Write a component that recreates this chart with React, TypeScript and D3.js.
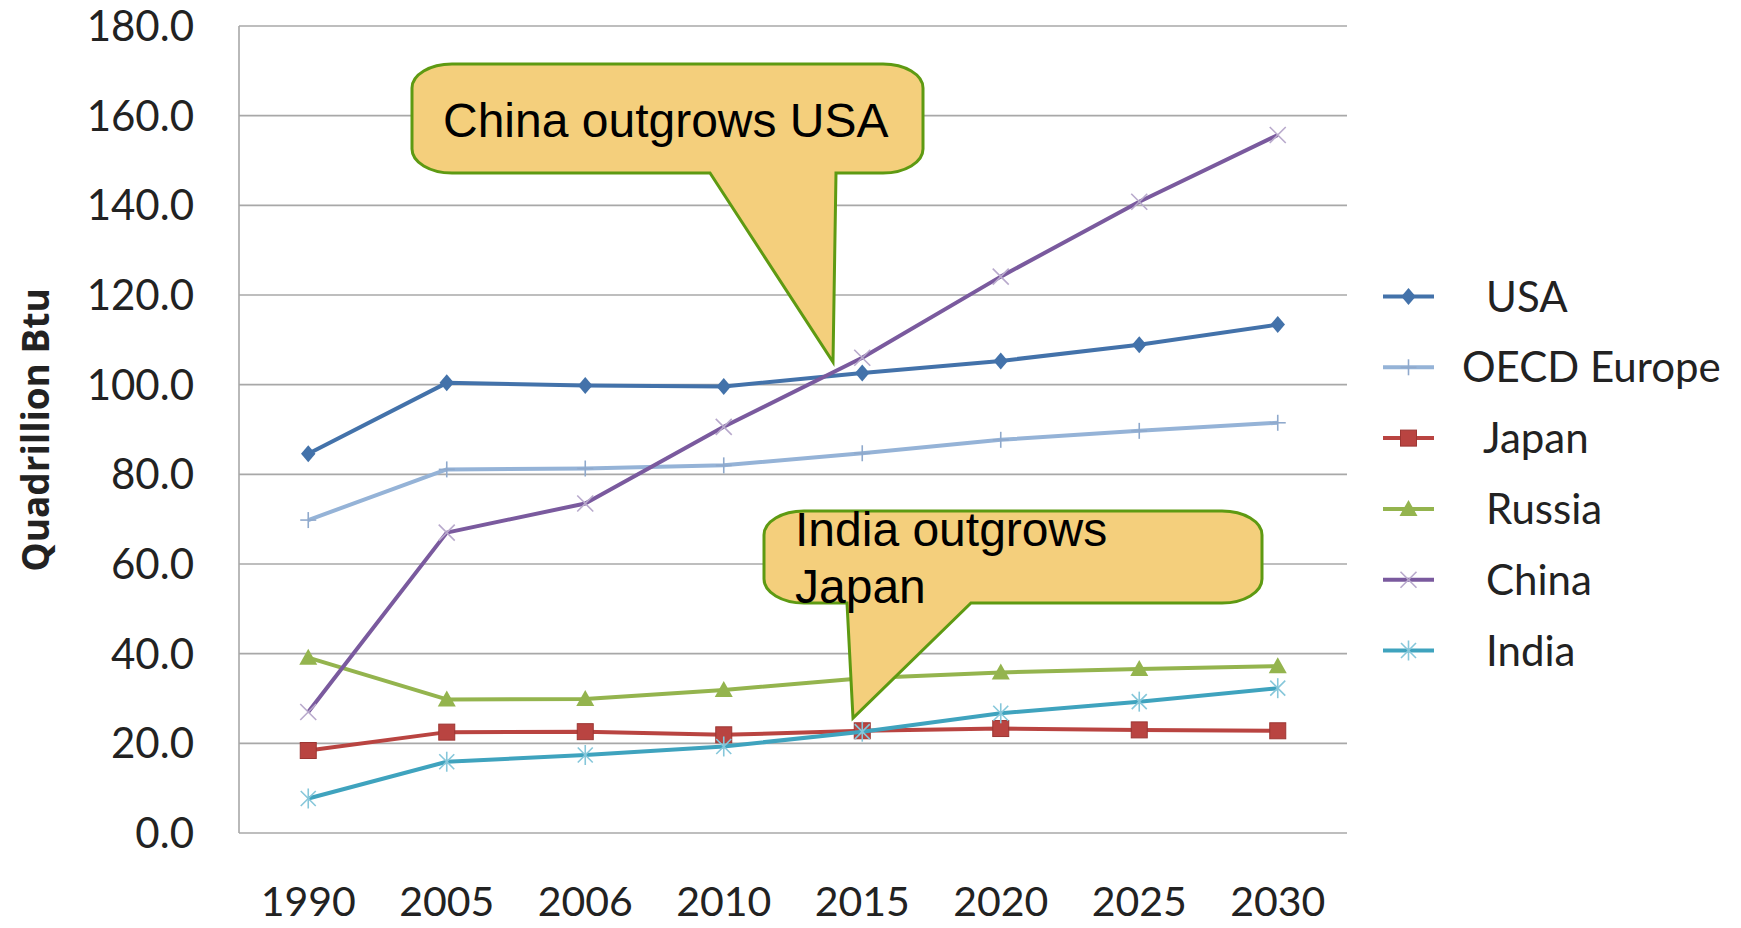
import React from "react";
import * as d3 from "d3";

const categories = ["1990", "2005", "2006", "2010", "2015", "2020", "2025", "2030"];
const seriesNames = ["USA", "OECD Europe", "Japan", "Russia", "China", "India"];
const usa = [84.6, 100.4, 99.8, 99.6, 102.6, 105.3, 108.9, 113.4];
const oecdEurope = [69.8, 81.1, 81.3, 82.0, 84.7, 87.7, 89.7, 91.5];
const japan = [18.4, 22.5, 22.6, 21.9, 22.8, 23.3, 23.0, 22.8];
const russia = [39.1, 29.8, 29.9, 31.9, 34.5, 35.8, 36.6, 37.2];
const china = [27.0, 67.0, 73.5, 90.6, 106.0, 124.1, 140.8, 155.7];
const india = [7.7, 15.9, 17.4, 19.3, 22.6, 26.7, 29.3, 32.3];
const yTicks = [0, 20, 40, 60, 80, 100, 120, 140, 160, 180];
const yTitle = "Quadrillion Btu";
const note1 = ["China outgrows USA"];
const note2 = ["India outgrows", "Japan"];

const W = 1741, H = 928;
const L = 239, R = 1347, T = 26, B = 833;

const colors = ["#4372AA", "#95B3D7", "#B94441", "#94B44E", "#7A5A9E", "#3FA3BE"];
const markerColors = ["#4372AA", "#8FA9CC", "#B94441", "#94B44E", "#B8A9CC", "#86C7DA"];
const markerTypes = ["diamond", "plus", "square", "triangle", "x", "star"];
const allValues = [usa, oecdEurope, japan, russia, china, india];

function Marker({ type, x, y, color }: { type: string; x: number; y: number; color: string }) {
  if (type === "diamond") {
    const s = 8.5;
    return <path d={`M${x},${y - s}L${x + s * 0.85},${y}L${x},${y + s}L${x - s * 0.85},${y}Z`} fill={color} />;
  }
  if (type === "square") {
    const s = 8;
    return <rect x={x - s} y={y - s} width={2 * s} height={2 * s} fill={color} stroke="#9c3633" strokeWidth={1} />;
  }
  if (type === "triangle") {
    return <path d={`M${x},${y - 9}L${x + 9},${y + 7}L${x - 9},${y + 7}Z`} fill={color} />;
  }
  if (type === "plus") {
    return (
      <g stroke={color} strokeWidth={1.6}>
        <line x1={x} y1={y - 8} x2={x} y2={y + 8} />
        <line x1={x - 8} y1={y} x2={x + 8} y2={y} />
      </g>
    );
  }
  if (type === "x") {
    const s = 8;
    return (
      <g stroke={color} strokeWidth={1.6}>
        <line x1={x - s} y1={y - s} x2={x + s} y2={y + s} />
        <line x1={x - s} y1={y + s} x2={x + s} y2={y - s} />
      </g>
    );
  }
  const s = 7.5;
  return (
    <g stroke={color} strokeWidth={1.6}>
      <line x1={x - s} y1={y - s} x2={x + s} y2={y + s} />
      <line x1={x - s} y1={y + s} x2={x + s} y2={y - s} />
      <line x1={x} y1={y - 10} x2={x} y2={y + 10} />
    </g>
  );
}

function calloutPath(x0: number, y0: number, x1: number, y1: number, pl: number, pr: number, tx: number, ty: number) {
  const rx = 40, ry = 24;
  return [
    `M${x0 + rx},${y0}`,
    `H${x1 - rx}`,
    `A${rx},${ry} 0 0 1 ${x1},${y0 + ry}`,
    `V${y1 - ry}`,
    `A${rx},${ry} 0 0 1 ${x1 - rx},${y1}`,
    `H${pr}`,
    `L${tx},${ty}`,
    `L${pl},${y1}`,
    `H${x0 + rx}`,
    `A${rx},${ry} 0 0 1 ${x0},${y1 - ry}`,
    `V${y0 + ry}`,
    `A${rx},${ry} 0 0 1 ${x0 + rx},${y0}`,
    "Z",
  ].join(" ");
}

export default function App() {
  const x = d3.scaleBand<string>().domain(categories).range([L, R]).padding(0);
  const cx = (c: string) => (x(c) as number) + x.bandwidth() / 2;
  const y = d3.scaleLinear().domain([0, 180]).range([B, T]);
  const line = d3
    .line<number>()
    .x((_, i) => cx(categories[i]))
    .y((v) => y(v));

  const tickFont = "Lato, 'Open Sans', sans-serif";
  const legendY0 = 296.5, legendStep = 70.8;

  return (
    <svg width={W} height={H} style={{ position: "absolute", left: 0, top: 0, background: "#fff" }}>
      <rect x={0} y={0} width={W} height={H} fill="#fff" />
      {/* grid */}
      {yTicks.map((t) => (
        <line key={t} x1={L} x2={R} y1={y(t)} y2={y(t)} stroke="#a8a8a8" strokeWidth={1.6} />
      ))}
      <line x1={L} x2={L} y1={T} y2={B} stroke="#a8a8a8" strokeWidth={1.6} />
      {/* y tick labels */}
      {yTicks.map((t) => (
        <text key={t} x={194} y={y(t)} dy="0.36em" textAnchor="end" fontFamily={tickFont} fontSize={42} fill="#222">
          {t.toFixed(1)}
        </text>
      ))}
      {/* x labels */}
      {categories.map((c) => (
        <text key={c} x={cx(c)} y={916} textAnchor="middle" fontFamily={tickFont} fontSize={41} fill="#222">
          {c}
        </text>
      ))}
      {/* y title */}
      <text
        transform={`translate(49,430) rotate(-90)`}
        textAnchor="middle"
        fontFamily="'Open Sans', sans-serif"
        fontWeight="bold"
        fontSize={37}
        fill="#222"
      >
        {yTitle}
      </text>
      {/* series */}
      {allValues.map((vals, si) => (
        <g key={si}>
          <path d={line(vals) || ""} fill="none" stroke={colors[si]} strokeWidth={4} strokeLinejoin="round" />
          {vals.map((v, i) => (
            <Marker key={i} type={markerTypes[si]} x={cx(categories[i])} y={y(v)} color={markerColors[si]} />
          ))}
        </g>
      ))}
      {/* legend */}
      {seriesNames.map((n, si) => {
        const ly = legendY0 + si * legendStep;
        const lx = si === 1 ? 1462 : si === 2 ? 1483 : 1486;
        return (
          <g key={n}>
            <line x1={1383} x2={1434} y1={ly} y2={ly} stroke={colors[si]} strokeWidth={4} />
            <Marker type={markerTypes[si]} x={1408.5} y={ly} color={markerColors[si]} />
            <text x={lx} y={ly} dy="0.36em" fontFamily={tickFont} fontSize={42} fill="#222">
              {n}
            </text>
          </g>
        );
      })}
      {/* callouts */}
      <path d={calloutPath(412, 64, 923, 173, 710, 836, 833, 362)} fill="#F4CF7C" stroke="#5E9A12" strokeWidth={3} />
      {note1.map((t, i) => (
        <text key={i} x={443} y={137 + i * 57} fontFamily="'Liberation Sans', Arial, sans-serif" fontSize={48} fill="#000">
          {t}
        </text>
      ))}
      <path d={calloutPath(764, 511, 1262, 603, 847, 971, 853, 718)} fill="#F4CF7C" stroke="#5E9A12" strokeWidth={3} />
      {note2.map((t, i) => (
        <text key={i} x={795} y={546 + i * 57} fontFamily="'Liberation Sans', Arial, sans-serif" fontSize={48} fill="#000">
          {t}
        </text>
      ))}
    </svg>
  );
}
